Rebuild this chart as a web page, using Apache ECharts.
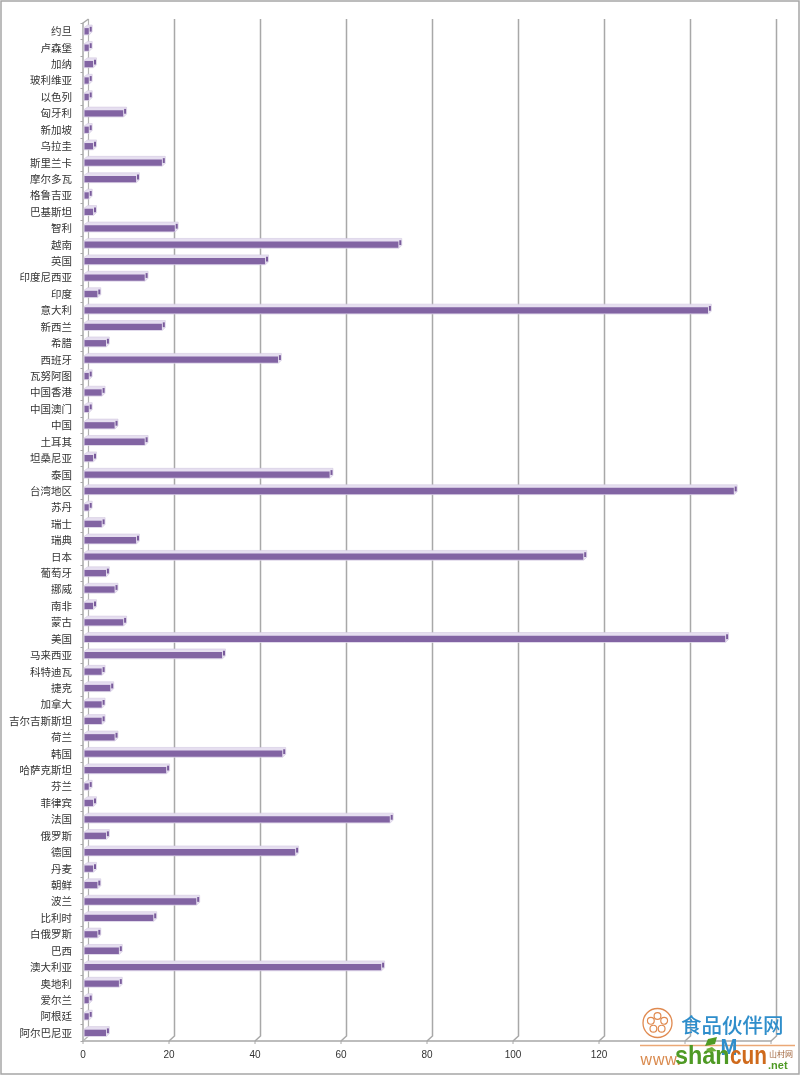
<!DOCTYPE html>
<html><head><meta charset="utf-8">
<style>html,body{margin:0;padding:0;background:#fff}#c{width:800px;height:1075px}</style>
<script src="https://cdn.jsdelivr.net/npm/echarts@6/dist/echarts.min.js"></script>
</head><body><div id="c"></div>
<script>
const categories=["约旦","卢森堡","加纳","玻利维亚","以色列","匈牙利","新加坡","乌拉圭","斯里兰卡","摩尔多瓦","格鲁吉亚","巴基斯坦","智利","越南","英国","印度尼西亚","印度","意大利","新西兰","希腊","西班牙","瓦努阿图","中国香港","中国澳门","中国","土耳其","坦桑尼亚","泰国","台湾地区","苏丹","瑞士","瑞典","日本","葡萄牙","挪威","南非","蒙古","美国","马来西亚","科特迪瓦","捷克","加拿大","吉尔吉斯斯坦","荷兰","韩国","哈萨克斯坦","芬兰","菲律宾","法国","俄罗斯","德国","丹麦","朝鲜","波兰","比利时","白俄罗斯","巴西","澳大利亚","奥地利","爱尔兰","阿根廷","阿尔巴尼亚"];
const values=[1,1,2,1,1,9,1,2,18,12,1,2,21,73,42,14,3,145,18,5,45,1,4,1,7,14,2,57,151,1,4,12,116,5,7,2,9,149,32,4,6,4,4,7,46,19,1,2,71,5,49,2,3,26,16,3,8,69,8,1,1,5];
const ticks=[0,20,40,60,80,100,120,140,160];
const chart=echarts.init(document.getElementById('c'),null,{renderer:'canvas'});
const GRID='#a8a8a8';
function wall(params,api){
  const cs=params.coordSys, v=api.value(0), x=api.coord([v,0])[0], b=cs.y+cs.height, t=cs.y;
  const s={stroke:GRID,lineWidth:1.5,fill:null};
  const thin={stroke:'#b4b4b4',lineWidth:1.2,fill:null};
  return {type:'group',children:[
    {type:'polyline',shape:{points:[[x,b],[x+5.5,b-5],[x+5.5,t-4]]},style:v===0?thin:s},
    {type:'line',shape:{x1:x,y1:b,x2:x,y2:b+3},style:{stroke:GRID,lineWidth:1}}
  ].concat(v===0?[{type:'line',shape:{x1:x,y1:t,x2:x+5.5,y2:t-4},style:s}]:[])};
}
function bar(params,api){
  const p0=api.coord([0,api.value(1)]), p1=api.coord([api.value(0),api.value(1)]);
  const x0=p0[0]+1.5, x1=p1[0]+1.5, y=p0[1]-.2, d=3;
  return {type:'group',children:[
    {type:'polygon',shape:{points:[[x0-.6,y-3.4],[x0+d,y-6],[x1+d+.4,y-6],[x1+d+.4,y+.9],[x1+.4,y+3.9],[x0-.6,y+3.9]]},style:{fill:'#e6dff0',stroke:'#d3c9e1',lineWidth:.6}},
    {type:'rect',shape:{x:x1+.9,y:y-4.2,width:d-1,height:4.8},style:{fill:'#7a5c9c'}},
    {type:'rect',shape:{x:x0,y:y-2.9,width:x1-x0,height:6.3},style:{fill:'#8264a3'}}
  ]};
}
const flower=[];
for(let i=0;i<5;i++){const a=-Math.PI/2+i*2*Math.PI/5;
  flower.push({type:'circle',z:102,shape:{cx:657.5+7*Math.cos(a),cy:1023+7*Math.sin(a),r:3.4},style:{fill:'#fff',stroke:'#e08a50',lineWidth:1.2}});}
const T=(x,y,text,fill,fontSize,fontWeight,extra,scaleX)=>({type:'text',x,y,scaleX:scaleX||1,style:Object.assign({text,fill,fontSize,fontWeight:fontWeight||'normal',fontFamily:'"Noto Sans CJK SC","Liberation Sans",sans-serif',textVerticalAlign:'middle'},extra||{})});
chart.setOption({
  animation:false,backgroundColor:'#fff',
  grid:{left:83,top:23,width:688,height:1018,containLabel:false},
  xAxis:{type:'value',min:0,max:160,interval:20,position:'bottom',
    axisLine:{show:true,lineStyle:{color:GRID,width:1.5}},axisTick:{show:false},splitLine:{show:false},
    axisLabel:{margin:9,fontSize:10,color:'#333',fontFamily:'"Liberation Sans"',showMaxLabel:true,showMinLabel:true}},
  yAxis:{type:'category',inverse:true,data:categories,
    axisLine:{show:true,lineStyle:{color:GRID,width:1.5}},
    axisTick:{show:true,length:2.5,alignWithLabel:false,lineStyle:{color:GRID,width:1}},
    axisLabel:{interval:0,margin:11,fontSize:10.5,color:'#333',fontFamily:'"Noto Sans CJK SC"'}},
  series:[
    {type:'custom',name:'wall',coordinateSystem:'cartesian2d',clip:false,z:1,silent:true,encode:{x:0,y:1},
      data:ticks.map(v=>[v,0]),renderItem:wall},
    {type:'custom',name:'values',coordinateSystem:'cartesian2d',clip:false,z:3,encode:{x:0,y:1},
      data:values.map((v,i)=>[v,i]),renderItem:bar}
  ],
  graphic:[
    {type:'rect',z:100,shape:{x:1,y:1,width:798,height:1073},style:{fill:null,stroke:'#a6a6a6',lineWidth:1.5}},
    {type:'rect',z:101,shape:{x:640,y:1046,width:158,height:27},style:{fill:'#fff'}},
    {type:'circle',z:102,shape:{cx:657.5,cy:1023,r:14.5},style:{fill:'#fff',stroke:'#e08a50',lineWidth:1.3}},
    ...flower,
    Object.assign(T(681,1025,'食品伙伴网','#2f8ecb',20.5,'500'),{z:102}),
    {type:'line',z:102,shape:{x1:640,y1:1045.5,x2:795,y2:1045.5},style:{stroke:'#eba876',lineWidth:1.5}},
    Object.assign(T(640,1059,'www.','#d98a4e',15.5),{z:102}),
    Object.assign(T(720,1047,'M','#2f8ecb',21,'bold'),{z:102}),
    Object.assign(T(675,1057,'shan','#4f9a25',26,'bold',{fontFamily:'"Liberation Sans"'},.9),{z:103}),
    Object.assign(T(730,1057,'cun','#cf6a1c',26,'bold',{fontFamily:'"Liberation Sans"'},.8),{z:103}),
    Object.assign(T(769,1054,'山村网','#a0633a',8),{z:103}),
    Object.assign(T(768,1066,'.net','#4f9a25',11,'bold',{fontFamily:'"Liberation Sans"'}),{z:103}),
    {type:'polygon',z:103,shape:{points:[[705,1046],[708,1039],[717,1037],[715,1044]]},style:{fill:'#4f9a25'}},
    {type:'polygon',z:103,shape:{points:[[706,1049],[712,1047],[717,1051],[710,1052]]},style:{fill:'#6fb03a'}}
  ]
});
</script></body></html>
